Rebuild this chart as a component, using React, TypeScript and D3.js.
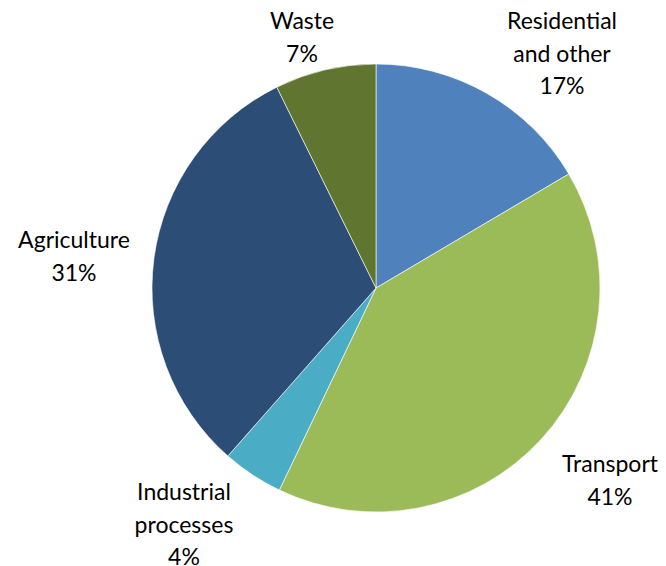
import React from "react";
import * as d3 from "d3";

const categories = ["Residential and other", "Transport", "Industrial processes", "Agriculture", "Waste"];
const values = [16.5, 40.6, 4.4, 31.2, 7.3];
const labelLines = [
  ["Residential", "and other", "17%"],
  ["Transport", "41%"],
  ["Industrial", "processes", "4%"],
  ["Agriculture", "31%"],
  ["Waste", "7%"],
];
const colors = ["#4F81BD", "#9BBB59", "#4BACC6", "#2C4D75", "#5F7530"];

// label anchor: [x, y of first baseline]
const labelPos: [number, number][] = [
  [562, 29],
  [610, 472],
  [184, 500],
  [74, 248],
  [302, 29],
];

export default function App() {
  const W = 666, H = 566;
  const cx = 376, cy = 288, r = 224;
  const data = categories.map((c, i) => ({ c, v: values[i], i }));
  const pie = d3.pie<any>().value((d) => d.v).sort(null);
  const arc = d3.arc<any>().innerRadius(0).outerRadius(r);
  const arcs = pie(data);
  return (
    <svg width={W} height={H} style={{ position: "absolute", left: 0, top: 0 }}>
      <rect width={W} height={H} fill="#fff" />
      <g transform={`translate(${cx},${cy})`}>
        {arcs.map((a, i) => (
          <path key={i} d={arc(a) || ""} fill={colors[i]} stroke="#fff" strokeWidth={0.6} />
        ))}
      </g>
      {labelLines.map((lines, i) => (
        <text key={i} textAnchor="middle" fontFamily="Lato, 'Open Sans', sans-serif" fontSize={23} fill="#000">
          {lines.map((l, j) => (
            <tspan key={j} x={labelPos[i][0]} y={labelPos[i][1] + j * 32.5}>{l}</tspan>
          ))}
        </text>
      ))}
    </svg>
  );
}
